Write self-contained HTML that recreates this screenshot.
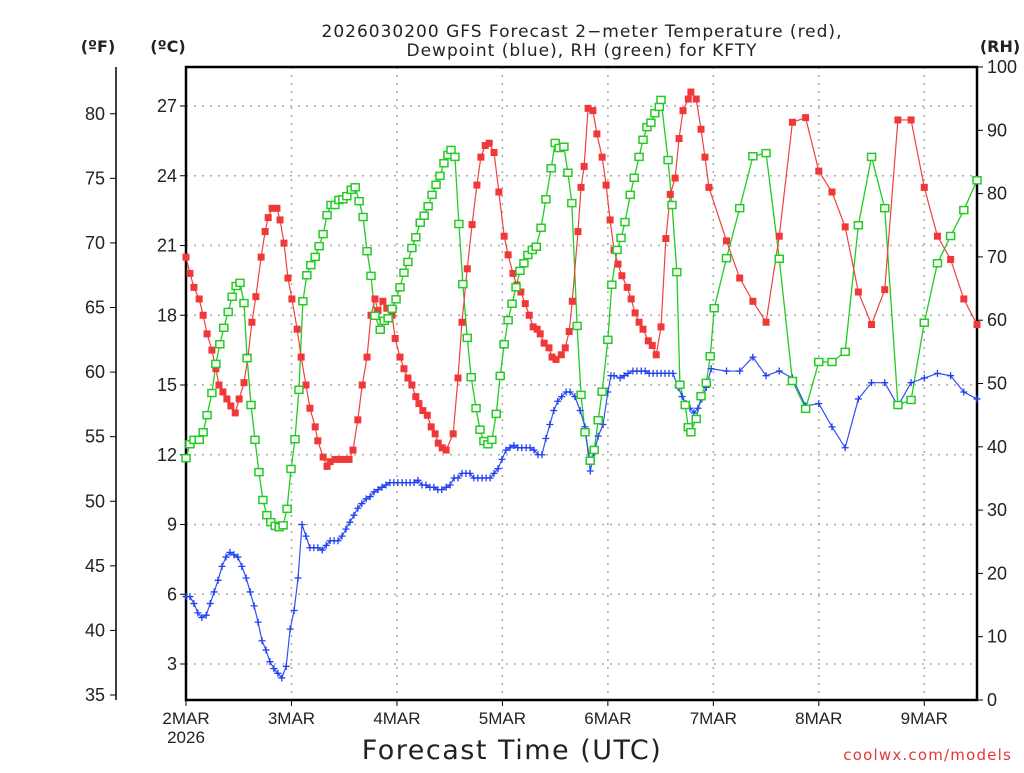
<!DOCTYPE html>
<html><head><meta charset="utf-8"><style>
html,body{margin:0;padding:0;background:#fff;}
svg text{font-family:"DejaVu Sans","Liberation Sans",sans-serif;fill:#222;}
svg text.tk{font-family:"Liberation Sans","DejaVu Sans",sans-serif;}
</style></head><body>
<svg id="chart" width="1024" height="768" viewBox="0 0 1024 768" xmlns="http://www.w3.org/2000/svg">
<g id="grid"></g>
<g id="axes"></g>
<g id="series"></g>
<text x="582" y="37" font-size="17" letter-spacing="1" text-anchor="middle">2026030200 GFS Forecast 2−meter Temperature (red),</text>
<text x="582" y="56" font-size="17" letter-spacing="1" text-anchor="middle">Dewpoint (blue), RH (green) for KFTY</text>
<text x="98" y="52" font-size="16" font-weight="bold" text-anchor="middle">(ºF)</text>
<text x="168" y="52" font-size="16" font-weight="bold" text-anchor="middle">(ºC)</text>
<text x="1000" y="52" font-size="16" font-weight="bold" text-anchor="middle">(RH)</text>
<text x="512" y="759" font-size="27" letter-spacing="1.5" text-anchor="middle">Forecast Time (UTC)</text>
<text x="1012" y="760" font-size="15" letter-spacing="1.2" text-anchor="end" style="fill:#e03838">coolwx.com/models</text>
</svg>
<script>
const dayLabels=["2MAR","3MAR","4MAR","5MAR","6MAR","7MAR","8MAR","9MAR"];
const celsiusTicks=[3,6,9,12,15,18,21,24,27];
const fahrenheitTicks=[35,40,45,50,55,60,65,70,75,80];
const rhTicks=[0,10,20,30,40,50,60,70,80,90,100];
const tempHours=[0,0.9,1.8,3.0,3.9,4.8,5.9,6.8,7.5,8.4,9.3,10.2,11.2,12.1,13.2,14.1,15.0,15.9,17.1,18.0,18.7,19.6,20.7,21.4,22.3,23.2,24.1,25.3,26.2,27.3,28.2,29.4,30.0,31.2,32.1,32.8,33.9,35.0,36.2,37.1,38.0,39.1,40.1,41.2,42.1,43.0,43.7,44.8,45.7,46.9,47.6,48.7,49.6,50.5,51.4,52.3,53.0,53.9,54.9,55.8,56.7,57.4,58.3,59.2,60.8,61.9,62.8,64.0,65.1,66.2,67.1,68.1,69.0,70.1,71.2,72.4,73.3,74.4,75.3,76.2,77.2,78.1,79.0,79.9,80.6,81.5,82.6,83.3,84.2,85.4,86.3,87.2,87.9,89.2,89.9,90.6,91.5,92.6,93.5,94.7,95.6,96.5,97.4,98.3,99.2,100.4,101.3,102.2,103.1,104.0,105.2,106.1,107.0,108.1,109.2,110.2,111.3,112.2,113.1,114.3,114.9,116.1,117.2,118.1,119.0,123,126,129,132,135,138,141,144,147,150,153,156,159,162,165,168,171,174,177,180];
const tempC=[20.5,19.8,19.2,18.7,18.0,17.2,16.5,15.7,15.0,14.7,14.4,14.1,13.8,14.4,15.1,16.2,17.7,18.8,20.5,21.6,22.2,22.6,22.6,22.1,21.1,19.6,18.7,17.4,16.2,15.0,14.0,13.2,12.6,11.9,11.5,11.7,11.8,11.8,11.8,11.8,12.2,13.5,15.0,16.2,18.0,18.7,18.2,18.6,18.3,18.0,17.0,16.2,15.7,15.3,15.0,14.5,14.2,13.9,13.7,13.2,12.9,12.5,12.3,12.2,12.9,15.3,17.7,20.0,21.9,23.6,24.8,25.3,25.4,25.0,23.3,21.4,20.6,19.8,19.3,19.0,18.5,18.0,17.5,17.4,17.2,16.8,16.6,16.2,16.1,16.3,16.6,17.3,18.6,21.6,23.5,24.4,26.9,26.8,25.8,24.8,23.6,22.1,20.8,20.2,19.7,19.2,18.7,18.1,17.7,17.4,16.9,16.7,16.3,17.5,21.3,23.2,23.9,25.6,26.8,27.3,27.6,27.3,26.0,24.8,23.5,21.2,19.6,18.6,17.7,21.4,26.3,26.5,24.2,23.3,21.8,19.0,17.6,19.1,26.4,26.4,23.5,21.4,20.4,18.7,17.6];
const dewHours=[0,0.9,1.8,2.7,3.6,4.6,5.5,6.4,7.3,8.2,9.1,10.0,10.9,11.8,12.7,13.7,14.6,15.5,16.4,17.3,18.2,19.1,20.0,20.9,21.8,22.8,23.7,24.6,25.5,26.4,27.3,28.2,29.1,30.0,31.0,31.9,32.8,33.7,34.6,35.5,36.4,37.3,38.2,39.1,40.0,41.0,41.9,42.8,43.7,44.6,45.5,46.4,47.3,48.2,49.2,50.1,51.0,51.9,52.8,53.7,54.6,55.5,56.4,57.3,58.2,59.2,60.1,61.0,61.9,62.8,63.7,64.6,65.5,66.4,67.4,68.3,69.2,70.1,71.0,71.9,72.8,73.7,74.6,75.5,76.4,77.4,78.3,79.2,80.1,81.0,81.9,82.8,83.7,84.6,85.5,86.5,87.4,88.5,89.7,90.8,92.0,92.9,93.8,94.9,96.0,96.7,97.4,98.8,99.7,100.6,101.7,102.6,103.6,104.5,105.4,106.3,107.2,108.1,109.0,109.9,110.8,112.0,112.9,113.8,114.7,115.6,116.5,117.4,118.4,119.5,123,126,129,132,135,138,141,144,147,150,153,156,159,162,165,168,171,174,177,180];
const dewC=[5.9,5.9,5.6,5.2,5.0,5.1,5.6,6.1,6.6,7.2,7.6,7.8,7.7,7.6,7.2,6.7,6.1,5.5,4.8,4.0,3.6,3.1,2.8,2.6,2.4,2.9,4.5,5.3,6.7,9.0,8.5,8.0,8.0,8.0,7.9,8.1,8.3,8.3,8.3,8.5,8.8,9.1,9.4,9.7,9.9,10.1,10.2,10.4,10.5,10.6,10.7,10.8,10.8,10.8,10.8,10.8,10.8,10.8,10.9,10.7,10.7,10.6,10.6,10.5,10.5,10.6,10.7,11.0,11.0,11.2,11.2,11.2,11.0,11.0,11.0,11.0,11.0,11.2,11.4,11.8,12.2,12.3,12.4,12.3,12.3,12.3,12.3,12.2,12.0,12.0,12.7,13.3,13.9,14.3,14.5,14.7,14.7,14.5,13.9,13.2,11.3,12.1,12.8,13.3,14.7,15.4,15.4,15.3,15.4,15.5,15.6,15.6,15.6,15.6,15.5,15.5,15.5,15.5,15.5,15.5,15.5,14.9,14.5,14.2,14.0,13.8,14.0,14.4,14.9,15.7,15.6,15.6,16.2,15.4,15.6,15.3,14.1,14.2,13.2,12.3,14.4,15.1,15.1,14.1,15.1,15.3,15.5,15.4,14.7,14.4];
const rhHours=[0,0.9,1.8,3.0,3.9,4.8,5.9,6.8,7.7,8.6,9.6,10.5,11.4,12.3,13.2,13.9,14.8,15.7,16.6,17.5,18.4,19.3,20.3,21.2,22.1,23.0,23.9,24.8,25.7,26.6,27.5,28.4,29.4,30.3,31.2,32.1,33.0,33.9,34.8,35.7,36.6,37.6,38.5,39.4,40.3,41.2,42.1,43.0,44.2,45.1,46.0,46.9,47.8,48.7,49.6,50.5,51.4,52.3,53.3,54.2,55.1,56.0,56.9,57.8,58.7,59.6,60.3,61.2,62.1,63.0,64.0,64.9,66.0,66.9,67.8,68.7,69.6,70.6,71.5,72.4,73.3,74.2,75.1,76.0,76.9,77.8,78.8,79.7,80.8,81.9,83.1,84.0,84.9,86.0,86.9,87.8,89.0,89.9,90.8,92.0,92.9,93.8,94.7,96.0,96.9,98.1,99.0,99.9,101.1,102.0,103.1,104.0,104.9,105.8,106.7,107.7,108.1,109.7,110.6,111.7,112.4,113.6,114.3,114.9,116.1,117.2,118.4,119.3,120.2,123,126,129,132,135,138,141,144,147,150,153,156,159,162,165,168,171,174,177,180];
const rhPct=[38.2,40.4,41.1,41.1,42.3,45.0,48.5,53.1,56.2,58.8,61.3,63.7,65.4,65.9,62.7,54.0,46.6,41.1,36.0,31.6,29.2,28.1,27.5,27.3,27.6,30.2,36.5,41.2,49.0,63.0,67.1,68.7,70.0,71.7,73.6,76.6,78.2,78.2,79.0,79.1,79.6,80.6,81.0,78.8,76.3,70.9,67.0,60.7,58.5,59.9,60.3,61.8,63.3,65.2,67.5,69.2,71.4,73.1,75.4,76.5,78.0,79.8,81.4,82.8,84.8,86.1,86.9,85.8,75.2,65.7,57.2,51.0,46.1,42.7,40.9,40.4,41.1,45.2,51.2,56.2,60.0,62.6,65.2,67.8,69.0,70.3,71.1,71.6,74.6,79.1,84.0,88.0,87.2,87.4,83.3,78.5,59.1,48.2,42.3,37.8,39.5,44.2,48.7,56.9,65.6,71.1,73.0,75.5,79.8,82.5,85.8,88.5,90.5,91.2,92.7,93.7,94.8,85.3,78.2,67.6,49.8,46.6,43.1,42.3,44.4,48.0,50.1,54.3,61.9,69.8,77.7,85.9,86.4,69.7,50.4,46.0,53.4,53.4,55.0,75.0,85.8,77.7,46.6,47.4,59.6,69.0,73.3,77.4,82.1];

const NS="http://www.w3.org/2000/svg";
const L=186,R=977,T=67,B=700,HOURS=180;
const xOf=h=>L+(R-L)*h/HOURS;
const yC=c=>664-(c-3)*(664-106)/24;
const yF=f=>yC((f-32)/1.8);
const yRH=r=>B-(B-T)*r/100;
function mk(tag,attrs,parent){const e=document.createElementNS(NS,tag);for(const k in attrs)e.setAttribute(k,attrs[k]);parent.appendChild(e);return e;}
const grid=document.getElementById('grid'),axes=document.getElementById('axes'),series=document.getElementById('series');

celsiusTicks.forEach(c=>{const y=yC(c);
 const g=mk('line',{x1:L,x2:R,y1:y,y2:y,stroke:'#aaa','stroke-width':1.5,'stroke-dasharray':'2,6'},grid);
 
 
 const t=mk('line',{x1:L-6,x2:L,y1:y,y2:y,stroke:'#000','stroke-width':1},axes);
 
 
 const tx=mk('text',{x:L-9,y:y+6,'font-size':18,'text-anchor':'end',class:'tk'},axes);tx.textContent=c;
 
 
});
dayLabels.forEach((d,i)=>{const x=xOf(i*24);
 if(i>0){const g=mk('line',{x1:x,x2:x,y1:T,y2:B,stroke:'#aaa','stroke-width':1.5,'stroke-dasharray':'2,6'},grid);
 
 }
 const t=mk('line',{x1:x,x2:x,y1:B,y2:B+6,stroke:'#000','stroke-width':1},axes);
 
 
 const tx=mk('text',{x:x,y:B+24,'font-size':17,'text-anchor':'middle',class:'tk'},axes);tx.textContent=d;
 
 
});
const yr=mk('text',{x:L,y:B+43,'font-size':17,'text-anchor':'middle',class:'tk'},axes);yr.textContent='2026';


const fl=mk('line',{x1:116,x2:116,y1:T,y2:B,stroke:'#000','stroke-width':1.5},axes);


fahrenheitTicks.forEach(f=>{const y=yF(f);
 const t=mk('line',{x1:110,x2:116,y1:y,y2:y,stroke:'#000','stroke-width':1},axes);
 
 
 const tx=mk('text',{x:105,y:y+6,'font-size':18,'text-anchor':'end',class:'tk'},axes);tx.textContent=f;
 
 
});
rhTicks.forEach(r=>{const y=yRH(r);
 const t=mk('line',{x1:R,x2:R+6,y1:y,y2:y,stroke:'#000','stroke-width':1},axes);
 
 
 const tx=mk('text',{x:R+10,y:y+6,'font-size':18,'text-anchor':'start',class:'tk'},axes);tx.textContent=r;
 
 
});
const frame=mk('rect',{x:L,y:T,width:R-L,height:B-T,fill:'none',stroke:'#000','stroke-width':2.5},axes);



function pts(hs,vs,yf){return hs.map((h,i)=>[xOf(h),yf(vs[i])]);}
const gp=pts(rhHours,rhPct,yRH);
const gl=mk('polyline',{points:gp.map(p=>p.join(',')).join(' '),fill:'none',stroke:'#22cc22','stroke-width':1.3},series);


const rp=pts(tempHours,tempC,yC);
const rl=mk('polyline',{points:rp.map(p=>p.join(',')).join(' '),fill:'none',stroke:'#f04040','stroke-width':1.2},series);


const bp=pts(dewHours,dewC,yC);
const bl=mk('polyline',{points:bp.map(p=>p.join(',')).join(' '),fill:'none',stroke:'#3050f0','stroke-width':1.2},series);


rp.forEach(p=>{const m=mk('rect',{x:p[0]-3.5,y:p[1]-3.5,width:7,height:7,fill:'#f03838'},series);
 
 });
bp.forEach(p=>{const m=mk('path',{d:`M${p[0]-3.5},${p[1]}h7M${p[0]},${p[1]-3.5}v7`,stroke:'#2040f0','stroke-width':1.3},series);
 
 });
gp.forEach(p=>{const m=mk('rect',{x:p[0]-4,y:p[1]-3.5,width:8,height:7,fill:'#fff',stroke:'#22cc22','stroke-width':1.5},series);
 
 });
</script>
</body></html>
